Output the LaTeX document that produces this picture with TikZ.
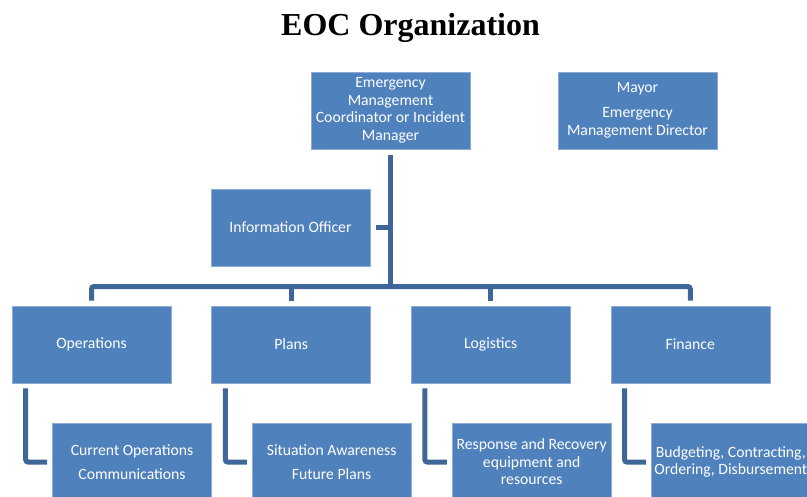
\documentclass[tikz,border=0pt]{standalone}
\usepackage{fontspec}
\setmainfont{Liberation Serif}
\newfontfamily\boxfont{Carlito}
\usetikzlibrary{positioning}
\definecolor{boxblue}{RGB}{79,129,189}
\definecolor{boxedge}{RGB}{140,172,214}
\definecolor{linkblue}{RGB}{62,102,152}

\begin{document}
\begin{tikzpicture}[x=1pt,y=-1pt,
    orgbox/.style={rectangle, fill=boxblue, draw=boxedge, line width=0.6pt,
        minimum width=159pt, minimum height=77pt, inner sep=2pt,
        text=white, align=center, font={\boxfont\fontsize{15.7}{17.5}\selectfont}},
    link/.style={draw=linkblue, line width=5pt, rounded corners=2.5pt}]
    \useasboundingbox (0,0) rectangle (807,496);
    \clip (0,0) rectangle (807,496);

    \node[anchor=base, font={\bfseries\fontsize{32}{38}\selectfont}] (title) at (410.5,35) {EOC Organization};

    % top row
    \node[orgbox] (emc) at (390.5,110.5) {Emergency\\Management\\Coordinator or Incident\\Manager};
    \node[orgbox] (mayor) at (637.5,110.5) {Mayor\\[7.5pt]Emergency\\Management Director};
    \node[orgbox] (info) at (290.5,227.5) {Information Officer};

    % sections
    \node[orgbox] (ops) at (91.5,344.5) {Operations};
    \node[orgbox, right=40pt of ops] (plans) {Plans};
    \node[orgbox, right=40pt of plans] (logistics) {Logistics};
    \node[orgbox, right=40pt of logistics] (finance) {Finance};

    % sub units
    \node[orgbox, below=40pt of ops, xshift=40.5pt] (cur) {Current Operations\\[6.5pt]Communications};
    \node[orgbox, below=40pt of plans, xshift=40.5pt] (sit) {Situation Awareness\\[6.5pt]Future Plans};
    \node[orgbox, below=40pt of logistics, xshift=41pt] (resp) {Response and Recovery\\equipment and\\resources};
    \node[orgbox, below=40pt of finance, xshift=40.5pt] (budget) {Budgeting, Contracting,\\Ordering, Disbursement};

    \coordinate (hub) at (390.5,286.5);

    \draw[link] ([yshift=-6pt]emc.south) -- (hub);
    \draw[link] ([xshift=6pt]info.east) -- (info.east -| hub);
    \draw[link] ([yshift=5pt]ops.north) |- (hub) -| ([yshift=5pt]finance.north);
    \draw[link] ([yshift=5pt]plans.north) -- (plans.north |- hub);
    \draw[link] ([yshift=5pt]logistics.north) -- (logistics.north |- hub);

    \foreach \sect/\unit in {ops/cur, plans/sit, logistics/resp, finance/budget}
        \draw[link] ([xshift=14pt,yshift=-5pt]\sect.south west) |- ([xshift=-5pt]\unit.west);
\end{tikzpicture}
\end{document}
